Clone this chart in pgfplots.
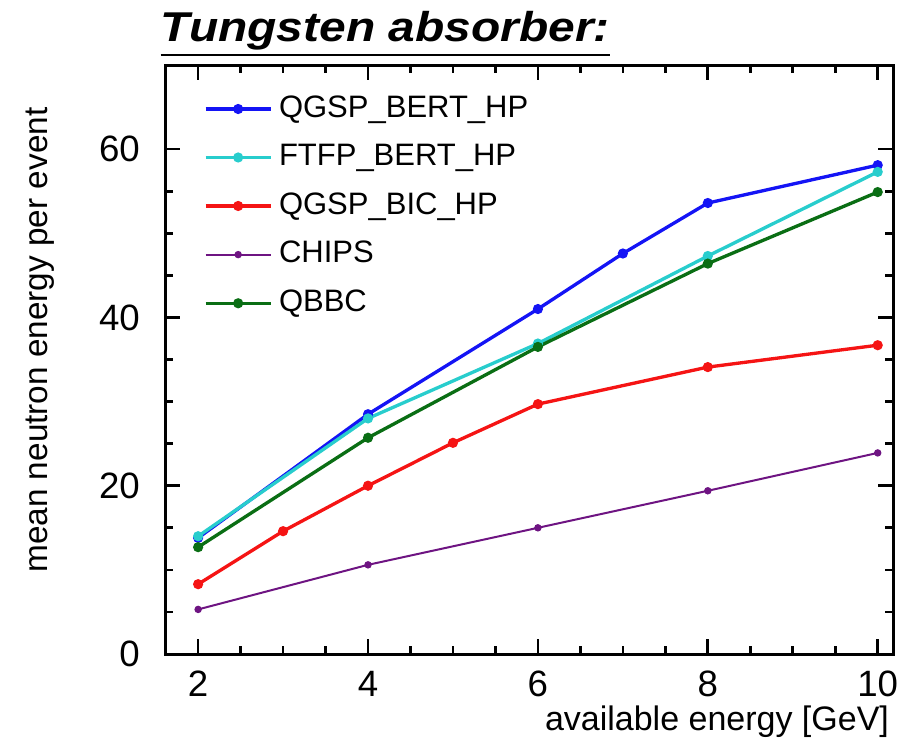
\documentclass[border=0pt]{standalone}
\usepackage{fontspec}
\setmainfont{Liberation Sans}
\usepackage{graphicx}
\usepackage{pgfplots}
\pgfplotsset{compat=1.18}

\definecolor{cBert}{RGB}{20,20,245}
\definecolor{cFtfp}{RGB}{40,205,205}
\definecolor{cBic}{RGB}{245,20,20}
\definecolor{cChips}{RGB}{110,20,130}
\definecolor{cQbbc}{RGB}{10,110,20}

\begin{document}
\begin{tikzpicture}
\begin{axis}[
    name=ax,
    scale only axis,
    width=218.4pt, height=176.7pt,
    xmin=1.61, xmax=10.18,
    ymin=0, ymax=70,
    xtick={2,4,6,8,10},
    ytick={0,20,40,60},
    minor x tick num=3,
    minor y tick num=3,
    tick align=inside,
    major tick length=4.5pt,
    minor tick length=2.4pt,
    tick style={line width=0.8pt, black},
    axis line style={line width=0.9pt},
    /pgf/number format/assume math mode=true,
    ticklabel style={font=\fontsize{11}{12}\selectfont},
    yticklabel style={xshift=-4pt},
    xticklabel style={yshift=-1.5pt},
    xlabel={available energy [GeV]},
    xlabel style={at={(axis description cs:1,0)}, anchor=north east, yshift=-14.5pt, inner sep=1pt, font=\fontsize{10.2}{12}\selectfont},
    ylabel={mean neutron energy per event},
    ylabel style={at={(axis description cs:-0.172,0.533)}, anchor=center, font=\fontsize{10}{12}\selectfont},
    legend cell align=left,
    legend style={draw=none, fill=none, at={(0,1)}, anchor=north west,
        xshift=8.5pt, yshift=-5pt, row sep=2.6pt,
        font=\fontsize{9.3}{10}\selectfont},
    legend image code/.code={\draw[mark repeat=2,mark phase=2,#1]
        plot coordinates {(0pt,0pt)(9.75pt,0pt)(19.5pt,0pt)};},
    every axis plot/.append style={mark=*, mark size=1.0pt},
]
\addplot[color=cBert, line width=1.0pt] coordinates {
    (2,13.8) (4,28.5) (6,41.0) (7,47.6) (8,53.6) (10,58.1)
};
\addlegendentry{QGSP\_BERT\_HP}
\addplot[color=cFtfp, line width=1.0pt] coordinates {
    (2,14.0) (4,28.0) (6,36.9) (8,47.3) (10,57.3)
};
\addlegendentry{FTFP\_BERT\_HP}
\addplot[color=cBic, line width=1.0pt] coordinates {
    (2,8.3) (3,14.6) (4,20.0) (5,25.1) (6,29.7) (8,34.1) (10,36.7)
};
\addlegendentry{QGSP\_BIC\_HP}
\addplot[color=cChips, line width=0.6pt, mark size=0.8pt] coordinates {
    (2,5.3) (4,10.6) (6,15.0) (8,19.4) (10,23.9)
};
\addlegendentry{CHIPS}
\addplot[color=cQbbc, line width=1.0pt] coordinates {
    (2,12.7) (4,25.7) (6,36.5) (8,46.4) (10,54.9)
};
\addlegendentry{QBBC}
\end{axis}
\node[anchor=south west, inner sep=0pt, xshift=-1.5pt, yshift=2.2pt,
      font=\fontsize{12.5}{14}\selectfont\bfseries\itshape]
    at (ax.north west) {\scalebox{1.15}[1]{\underline{Tungsten absorber:}}};
\pgfresetboundingbox
\path[use as bounding box] ([xshift=-49.5pt,yshift=19.5pt]ax.north west)
    rectangle ([xshift=4.2pt,yshift=-26.8pt]ax.south east);
\end{tikzpicture}
\end{document}
